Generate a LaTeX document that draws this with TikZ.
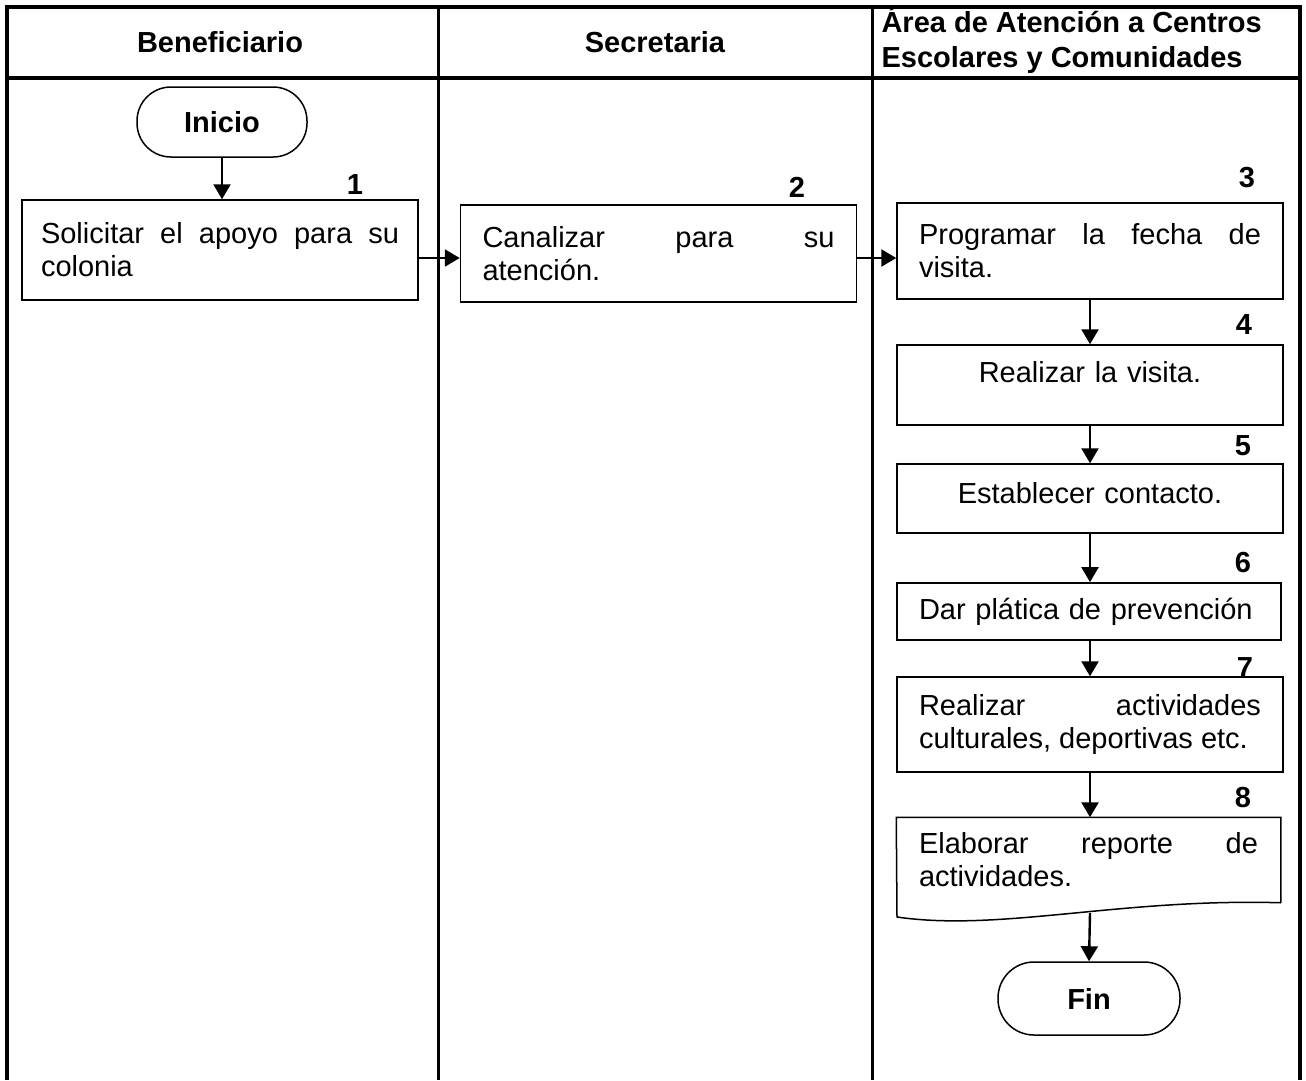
\documentclass[tikz,border=0pt]{standalone}
\usepackage{fontspec}
\setmainfont{Liberation Sans}
\usetikzlibrary{arrows.meta}
\begin{document}
\begin{tikzpicture}[x=1pt,y=-1pt,>={Triangle[length=15pt,width=17pt]},
	font=\fontsize{29}{33}\selectfont,
	proc/.style={draw,line width=1.5pt,align=justify,inner ysep=0pt,inner xsep=22pt},
	term/.style={draw,line width=1.5pt,rounded corners=34pt,font=\fontsize{29}{33}\selectfont\bfseries},
	num/.style={font=\fontsize{29}{33}\selectfont\bfseries},
	hdr/.style={font=\fontsize{29}{35}\selectfont\bfseries},
	flow/.style={->,line width=2.4pt}]
	\useasboundingbox (0,0) rectangle (1306,1080);
	% frame
	\draw[line width=4pt] (7,1080) -- (7,7) -- (1300,7) -- (1300,1080);
	\draw[line width=4pt] (5,78) -- (1302,78);
	\draw[line width=3pt] (438,7) -- (438,1080);
	\draw[line width=3pt] (872,7) -- (872,1080);
	\node[hdr] (hben) at (220,42) {Beneficiario};
	\node[hdr] (hsec) at (655,42) {Secretaria};
	\node[hdr,anchor=west,align=left] (hare) at (878,40) {Área de Atención a Centros\\Escolares y Comunidades};
	% Beneficiario
	\node[term,minimum width=170pt,minimum height=70pt] (inicio) at (222,122) {Inicio};
	\node[proc,text width=358pt,minimum height=100pt,inner xsep=19pt] (box1) at (220,250) {Solicitar el apoyo para su\linebreak colonia};
	\node[num] (n1) at (355,185) {1};
	% Secretaria
	\node[proc,text width=352pt,minimum height=97pt] (box2) at (658.5,253.5) {Canalizar para su\linebreak atención.};
	\node[num] (n2) at (797,187) {2};
	% Area de Atencion
	\node[proc,text width=342pt,minimum height=96pt] (box3) at (1090,251) {Programar la fecha de\linebreak visita.};
	\node[num] (n3) at (1247,178) {3};
	\node[proc,align=center,text width=342pt,minimum height=80pt,text depth=26pt] (box4) at (1090,385) {Realizar la visita.};
	\node[num] (n4) at (1244,325) {4};
	\node[proc,align=center,text width=342pt,minimum height=69pt,text depth=12pt] (box5) at (1090,498.5) {Establecer contacto.};
	\node[num] (n5) at (1243,446) {5};
	\node[proc,align=left,text width=340pt,minimum height=57pt,line width=1.8pt] (box6) at (1089,611.5) {Dar plática de prevención};
	\node[num] (n6) at (1243,563) {6};
	\node[proc,text width=342pt,minimum height=95pt] (box7) at (1090,724.5) {Realizar actividades\linebreak culturales, deportivas etc.};
	\node[num] (n7) at (1245,668) {7};
	\node[proc,draw=none,text width=339pt,minimum height=84pt] (box8) at (1088.5,860) {Elaborar reporte de\linebreak actividades.};
	\draw[line width=1.5pt] (box8.south east) -- (box8.north east) -- (box8.north west) -- (897,917)
		.. controls (1000,932) and (1120,898) .. (box8.south east);
	\coordinate (b8out) at (1090,913);
	\node[num] (n8) at (1243,798) {8};
	\node[term,minimum width=182pt,minimum height=73pt,rounded corners=36pt] (fin) at (1089,998.5) {Fin};
	% connectors
	\draw[flow] (inicio) -- (inicio |- box1.north);
	\draw[flow] ([yshift=-8pt]box1.east) -- ([yshift=-8pt]box1.east -| box2.west);
	\draw[flow] ([yshift=-8pt]box1.east -| box2.east) -- ([yshift=-8pt]box1.east -| box3.west);
	\draw[flow] (box3) -- (box3 |- box4.north);
	\draw[flow] (box4.south) -- (box5.north);
	\draw[flow] (box5.south) -- (box5.south |- box6.north);
	\draw[flow] (box6.south -| box7.north) -- (box7.north);
	\draw[flow] (box7.south) -- (box7.south |- box8.north);
	\draw[flow] (b8out) -- (fin.north);
\end{tikzpicture}
\end{document}
